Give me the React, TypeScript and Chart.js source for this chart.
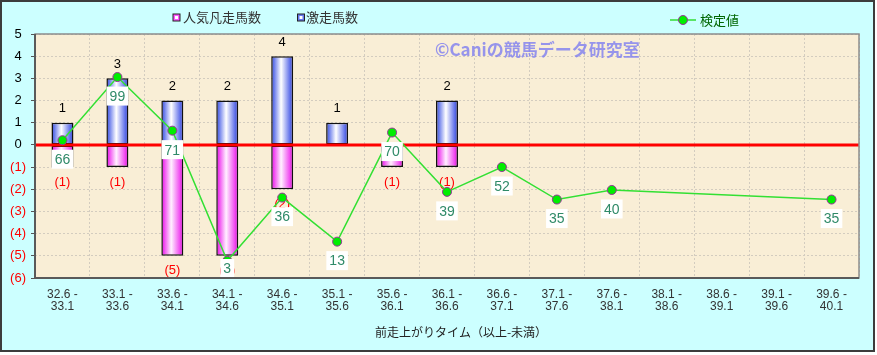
import React, { useEffect, useRef } from "react";
import { Chart, registerables } from "chart.js";

Chart.register(...registerables);

// ---- data ----
const rangeFrom = ["32.6", "33.1", "33.6", "34.1", "34.6", "35.1", "35.6", "36.1", "36.6", "37.1", "37.6", "38.1", "38.6", "39.1", "39.6"];
const rangeTo = ["33.1", "33.6", "34.1", "34.6", "35.1", "35.6", "36.1", "36.6", "37.1", "37.6", "38.1", "38.6", "39.1", "39.6", "40.1"];
const gekisouCount = [1, 3, 2, 2, 4, 1, 0, 2, 0, 0, 0, 0, 0, 0, 0]; // 激走馬数
const bonsouCount = [1, 1, 5, 5, 2, 0, 1, 1, 0, 0, 0, 0, 0, 0, 0]; // 人気凡走馬数 (drawn downward)
const kenteiValue = [66, 99, 71, 3, 36, 13, 70, 39, 52, 35, 40, null, null, null, 35]; // 検定値
const yMin = -6;
const yMax = 5;
const y2Min = -6;
const y2Max = 121.5;

const legendBonsou = "人気凡走馬数";
const legendGekisou = "激走馬数";
const legendKentei = "検定値";
const xTitle = "前走上がりタイム（以上-未満）";
const watermark = "©Caniの競馬データ研究室";

const FONT_LAT = '"Liberation Sans", Arial, sans-serif';
const FONT_JP = '"Noto Sans CJK JP", "Noto Sans", sans-serif';

export default function App() {
  const ref = useRef<HTMLCanvasElement>(null);

  useEffect(() => {
    const canvas = ref.current!;
    const labels = rangeFrom.map((f, i) => [f + " -", rangeTo[i]]);

    const makeGrad = (ctx: any, stops: [number, string][], fallback: string) => {
      const chart = ctx.chart;
      if (ctx.dataIndex === undefined || !chart.scales || !chart.scales.x) return fallback;
      const xs = chart.scales.x;
      const c = xs.getPixelForValue(ctx.dataIndex);
      const half = (xs.width / labels.length) * 0.2;
      if (!isFinite(c)) return fallback;
      const g = chart.ctx.createLinearGradient(c - half, 0, c + half, 0);
      stops.forEach(([o, col]) => g.addColorStop(o, col));
      return g;
    };

    const blueStops: [number, string][] = [
      [0, "#4457dc"], [0.12, "#6275ea"], [0.45, "#ffffff"], [0.85, "#6070ea"], [1, "#3140c8"],
    ];
    const pinkStops: [number, string][] = [
      [0, "#e010e0"], [0.12, "#f040f0"], [0.45, "#fff0ff"], [0.85, "#f048f0"], [1, "#c800c8"],
    ];

    const customPlugin = {
      id: "custom",
      beforeDraw(chart: any) {
        const { ctx, width, height, chartArea: a } = chart;
        ctx.save();
        ctx.fillStyle = "#ffffff";
        ctx.fillRect(0, 0, width, height);
        ctx.fillStyle = "#ccffff";
        ctx.fillRect(0, 0, width - 2, height - 3);
        ctx.strokeStyle = "#3c3c3c";
        ctx.lineWidth = 2;
        ctx.strokeRect(1, 1, width - 4, height - 5);
        ctx.fillStyle = "#f9eed6";
        ctx.fillRect(a.left, a.top, a.right - a.left, a.bottom - a.top);
        ctx.restore();
      },
      beforeDatasetDraw(chart: any, args: any) {
        if (args.meta.type !== "line") return;
        const { ctx, chartArea: a } = chart;
        const y0 = chart.scales.y.getPixelForValue(0);
        ctx.save();
        // zero line
        ctx.strokeStyle = "#ff0000";
        ctx.lineWidth = 3;
        ctx.beginPath();
        ctx.moveTo(a.left, y0);
        ctx.lineTo(a.right, y0);
        ctx.stroke();
        // bar labels
        ctx.font = `13px ${FONT_LAT}`;
        ctx.textAlign = "center";
        ctx.textBaseline = "middle";
        chart.data.datasets.forEach((ds: any, di: number) => {
          if (ds.type !== "bar") return;
          const meta = chart.getDatasetMeta(di);
          meta.data.forEach((el: any, i: number) => {
            const v = ds.data[i];
            if (v === null || v === 0) return;
            if (v > 0) {
              ctx.fillStyle = "#000000";
              ctx.fillText(String(v), el.x, el.y - 14);
            } else {
              ctx.fillStyle = "#ff0000";
              ctx.fillText(`(${-v})`, el.x, el.y + 15);
            }
          });
        });
        ctx.restore();
      },
      afterDatasetsDraw(chart: any) {
        const { ctx, chartArea: a } = chart;
        const idx = chart.data.datasets.findIndex((d: any) => d.type === "line");
        const meta = chart.getDatasetMeta(idx);
        const ds = chart.data.datasets[idx];
        ctx.save();
        ctx.font = `14px ${FONT_LAT}`;
        ctx.textAlign = "center";
        ctx.textBaseline = "middle";
        meta.data.forEach((el: any, i: number) => {
          const v = ds.data[i];
          if (v === null || v === undefined) return;
          const t = String(v);
          const w = ctx.measureText(t).width + 6;
          const h = 19;
          let cy = el.y + 19;
          if (cy + h / 2 > a.bottom) cy = a.bottom - h / 2;
          ctx.fillStyle = "#ffffff";
          ctx.fillRect(el.x - w / 2, cy - h / 2, w, h);
          ctx.fillStyle = "#2f8a68";
          ctx.fillText(t, el.x, cy + 1);
        });
        ctx.restore();
      },
      afterDraw(chart: any) {
        const { ctx, chartArea: a } = chart;
        ctx.save();
        // plot border
        ctx.strokeStyle = "#8c8c8c";
        ctx.lineWidth = 1.5;
        ctx.strokeRect(a.left, a.top, a.right - a.left, a.bottom - a.top);
        ctx.strokeStyle = "#5a5a5a";
        ctx.lineWidth = 2;
        ctx.beginPath();
        ctx.moveTo(a.left, a.top);
        ctx.lineTo(a.left, a.bottom);
        ctx.lineTo(a.right, a.bottom);
        ctx.stroke();

        // watermark
        ctx.font = `bold 17px ${FONT_JP}`;
        ctx.fillStyle = "rgba(125,125,240,0.8)";
        ctx.textAlign = "left";
        ctx.textBaseline = "middle";
        ctx.fillText(watermark, a.left + 400, a.top + 16);

        // legend
        const drawSquare = (x: number, y: number, fill: string) => {
          ctx.fillStyle = fill;
          ctx.fillRect(x - 3.5, y - 3.5, 7, 7);
          ctx.fillStyle = "#ffffff";
          ctx.fillRect(x - 1.5, y - 1.5, 3, 3);
          ctx.strokeStyle = "#222222";
          ctx.lineWidth = 1;
          ctx.strokeRect(x - 3.5, y - 3.5, 7, 7);
        };
        ctx.font = `13px ${FONT_JP}`;
        ctx.textBaseline = "middle";
        drawSquare(176.5, 17.5, "#ff55ff");
        ctx.fillStyle = "#333333";
        ctx.fillText(legendBonsou, 183, 17.5);
        drawSquare(301, 17.5, "#6677ee");
        ctx.fillStyle = "#333333";
        ctx.fillText(legendGekisou, 306, 17.5);

        ctx.strokeStyle = "#33dd33";
        ctx.lineWidth = 1.5;
        ctx.beginPath();
        ctx.moveTo(670, 20);
        ctx.lineTo(696, 20);
        ctx.stroke();
        ctx.beginPath();
        ctx.arc(683, 20, 4.5, 0, Math.PI * 2);
        ctx.fillStyle = "#00ee00";
        ctx.fill();
        ctx.strokeStyle = "#993399";
        ctx.lineWidth = 1;
        ctx.stroke();
        ctx.fillStyle = "#006600";
        ctx.fillText(legendKentei, 700, 20);

        // x axis title
        ctx.font = `12px ${FONT_JP}`;
        ctx.fillStyle = "#222222";
        ctx.textAlign = "center";
        ctx.fillText(xTitle, (a.left + a.right) / 2 + 14, a.bottom + 54);
        ctx.restore();
      },
    };

    const chart = new Chart(canvas, {
      type: "bar",
      data: {
        labels,
        datasets: [
          {
            type: "line",
            label: legendKentei,
            data: kenteiValue,
            yAxisID: "y2",
            order: 0,
            borderColor: "#33e033",
            borderWidth: 1.5,
            pointRadius: 4.5,
            pointBackgroundColor: "#00ee00",
            pointBorderColor: "#993399",
            pointBorderWidth: 1,
            spanGaps: true,
            tension: 0,
          },
          {
            type: "bar",
            label: legendGekisou,
            data: gekisouCount.map((v) => (v === 0 ? null : v)),
            yAxisID: "y",
            order: 1,
            backgroundColor: (ctx: any) => makeGrad(ctx, blueStops, "#6677ee"),
            borderColor: "#111111",
            borderWidth: 1.5,
            borderSkipped: false,
            barPercentage: 0.4,
            categoryPercentage: 1,
          },
          {
            type: "bar",
            label: legendBonsou,
            data: bonsouCount.map((v) => (v === 0 ? null : -v)),
            yAxisID: "y",
            order: 2,
            backgroundColor: (ctx: any) => makeGrad(ctx, pinkStops, "#ff55ff"),
            borderColor: "#111111",
            borderWidth: 1.5,
            borderSkipped: false,
            barPercentage: 0.4,
            categoryPercentage: 1,
          },
        ] as any,
      },
      options: {
        responsive: false,
        animation: false,
        devicePixelRatio: 1,
        layout: { padding: { left: 0, top: 34, right: 18, bottom: 0 } },
        plugins: { legend: { display: false }, tooltip: { enabled: false } },
        scales: {
          x: {
            stacked: true,
            afterFit: (s: any) => {
              s.height = 77;
            },
            grid: {
              offset: true,
              color: "#d3ccbf",
              lineWidth: 1,
              drawTicks: false,
            },
            border: { display: false, dash: [2, 2] },
            ticks: {
              color: "#333333",
              font: { family: FONT_LAT, size: 12, lineHeight: 1 },
              padding: 11,
              maxRotation: 0,
              autoSkip: false,
            },
          },
          y: {
            stacked: true,
            min: yMin,
            max: yMax,
            afterFit: (s: any) => {
              s.width = 35;
            },
            grid: {
              color: "#d3ccbf",
              lineWidth: 1,
              drawTicks: true,
              tickLength: 4,
              tickColor: "#555555",
              tickWidth: 1,
            },
            border: { display: false, dash: [2, 2] },
            ticks: {
              stepSize: 1,
              padding: 5,
              crossAlign: "center",
              font: { family: FONT_LAT, size: 13 },
              color: (ctx: any) => (ctx.tick && ctx.tick.value < 0 ? "#ff0000" : "#000000"),
              callback: (v: any) => (Number(v) < 0 ? `(${-Number(v)})` : `${v}`),
            },
          },
          y2: {
            display: false,
            position: "right",
            min: y2Min,
            max: y2Max,
            grid: { drawOnChartArea: false },
          },
        },
      } as any,
      plugins: [customPlugin],
    });

    return () => chart.destroy();
  }, []);

  return (
    <div style={{ position: "absolute", left: 0, top: 0, width: 877, height: 355 }}>
      <canvas ref={ref} width={877} height={355} style={{ display: "block", width: 877, height: 355 }} />
    </div>
  );
}
